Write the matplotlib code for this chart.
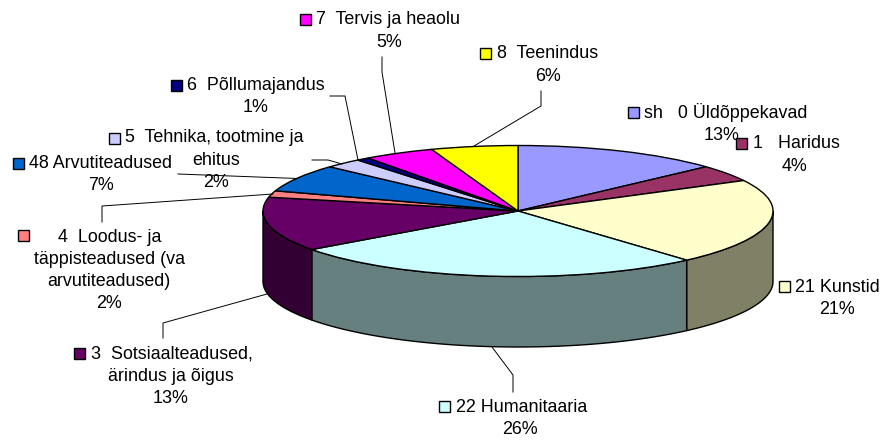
import matplotlib
matplotlib.use('Agg')
import matplotlib.pyplot as plt
from matplotlib.patches import Rectangle
import numpy as np

plt.rcParams['font.family'] = ['Liberation Sans', 'DejaVu Sans']

names = ['sh   0 Üldõppekavad', '1   Haridus', '21 Kunstid', '22 Humanitaaria',
         '3  Sotsiaalteadused,', '4  Loodus- ja', '48 Arvutiteadused',
         '5  Tehnika, tootmine ja', '6  Põllumajandus', '7  Tervis ja heaolu', '8  Teenindus']
extra_lines = [[], [], [], [], ['ärindus ja õigus'],
               ['täppisteadused (va', 'arvutiteadused)'], [], ['ehitus'], [], [], []]
percent_labels = ['13%', '4%', '21%', '26%', '13%', '2%', '7%', '2%', '1%', '5%', '6%']
# shares, they are not quite the rounded labels
values = [13.2, 4.1, 21.2, 26.49, 13.4, 1.6, 6.8, 2.4, 0.81, 4.5, 5.5]
colors = ['#9999FF', '#993366', '#FFFFCC', '#CCFFFF', '#660066', '#FF8080',
          '#0066CC', '#CCCCFF', '#000080', '#FF00FF', '#FFFF00']
wall_colors = ['#4D4D80', '#4D1A33', '#808066', '#668080', '#330033', '#804040',
               '#003366', '#666680', '#000040', '#800080', '#808000']

# pie geometry in pixels
cx, cy = 518, 211
rx, ry = 255, 65.5
depth = 70.5 / ry

fig = plt.figure(figsize=(8.82, 4.40), dpi=100)
ax = fig.add_axes([0, 0, 1, 1])

# side wall, only the front half can be seen
ends = np.cumsum(values) / np.sum(values) * 360
starts = np.r_[0, ends[:-1]]
for a, b, wc in zip(starts, ends, wall_colors):
    a2, b2 = max(a, 90), min(b, 270)
    if b2 <= a2:
        continue
    t = np.radians(np.linspace(a2, b2, 80))
    x = np.sin(t)
    y = np.cos(t)
    ax.fill(np.r_[x, x[::-1]], np.r_[y, y[::-1] - depth], facecolor=wc,
            edgecolor='black', linewidth=1.0, joinstyle='round')

ax.pie(values, colors=colors, startangle=90, counterclock=False,
       wedgeprops=dict(edgecolor='black', linewidth=1.0, joinstyle='round'))
ax.set_aspect('auto')
ax.set_xlim((0 - cx) / rx, (882 - cx) / rx)
ax.set_ylim((cy - 440) / ry, cy / ry)
ax.axis('off')

# labels and leader lines go on a pixel overlay
ov = fig.add_axes([0, 0, 1, 1])
ov.set_xlim(0, 882)
ov.set_ylim(440, 0)
ov.axis('off')
ov.patch.set_alpha(0)

key_x = [628, 736, 779, 439, 74, 18, 13, 109, 171, 300, 480]
key_y = [107, 138, 281, 401, 348, 230, 158, 133, 80, 14, 48]
text_x = [644, 753, 795, 456, 91, 58, 29, 125, 187, 316, 497]
text_y = [113, 144, 287, 407, 354, 237, 163, 138, 85, 20, 54]
center_x = [722, 795, 837, 520, 171, 109, 101, 216, 256, 389, 548]

leaders = [
    [(382, 57), (382, 72), (395, 153)],
    [(330, 96), (345, 96), (358, 160)],
    [(312, 160), (328, 160), (342, 164)],
    [(178, 174), (297, 178.5)],
    [(102, 222), (102, 206), (273, 194)],
    [(163, 338), (163, 323), (267, 294)],
    [(513, 392), (513, 375), (492, 347)],
    [(541, 91), (541, 106), (474, 146)],
]
for pts in leaders:
    ov.plot([p[0] for p in pts], [p[1] for p in pts], color='black', linewidth=0.7)

fs = 12.85
line_h = 22.3
for i in range(len(names)):
    lines = extra_lines[i] + [percent_labels[i]]
    for n, s in enumerate(lines):
        ov.text(center_x[i], text_y[i] + (n + 1) * line_h, s, fontsize=fs,
                ha='center', va='center', color='black')
    ov.text(text_x[i], text_y[i], names[i], fontsize=fs, ha='left', va='center', color='black')
    ov.add_patch(Rectangle((key_x[i], key_y[i]), 11, 11, facecolor=colors[i],
                           edgecolor='black', linewidth=1.0, zorder=5))

fig.savefig('out.png', dpi=100)
